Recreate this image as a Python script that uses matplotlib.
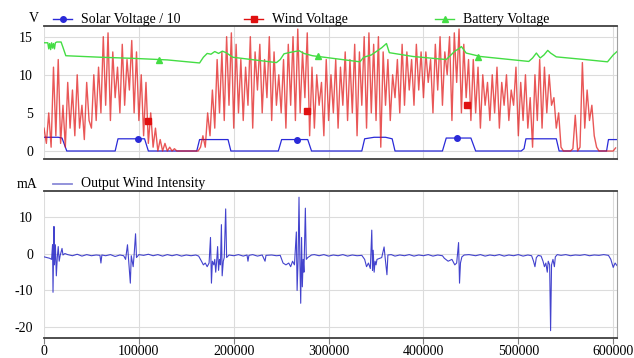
import numpy as np
import matplotlib
matplotlib.use("Agg")
import matplotlib.pyplot as plt
from matplotlib.lines import Line2D

plt.rcParams['font.family'] = ['Liberation Serif', 'DejaVu Serif']
plt.rcParams['font.size'] = 10
plt.rcParams['axes.unicode_minus'] = False

# ---------------------------------------------------------
# DATA
# ---------------------------------------------------------

# wind voltage, one sample every 2500 s
wind_step = 2500
wind_v = [
    3, 1, 5, 0.5, 11, 2, 12, 1, 6, 0.5, 9, 3, 8, 2, 10, 3, 6, 1.5, 9, 4,
    3, 10, 4, 11, 5, 15, 6, 15.5, 4, 13, 7, 11, 5, 14, 6, 12, 8, 14.5, 5, 13,
    4, 10, 2, 9, 1, 5, 0.5, 3, 0, 1.5, 0, 1, 0, 0.5, 0, 0.3, 0, 0, 0, 0,
    0, 0, 0, 0, 0, 0, 0.5, 2, 0.5, 5, 2, 8, 3, 12, 5, 13, 4, 15, 6, 15.5,
    3, 14, 5, 12, 4, 11, 6, 15, 3, 13, 8, 14, 5, 12, 7, 15, 4, 13, 6, 10,
    5, 12, 3, 14, 6, 15, 4, 16, 5, 13, 7, 15.5, 2, 11, 3, 10, 6, 9, 2, 12,
    4, 10, 5, 12, 3, 11, 6, 13, 4, 12, 5, 14, 2, 13, 6, 15, 3, 15.5, 5, 14,
    4, 15, 0.5, 13, 6, 12, 4, 10, 7, 12, 5, 14, 6, 13, 8, 12, 6, 14, 8, 13,
    7, 13, 9, 12, 5, 14, 8, 15, 6, 13, 10, 15, 4, 15.5, 9, 16, 5, 14, 7, 12,
    4, 12, 5, 11, 3, 10, 6, 9, 4, 10, 5, 11, 3, 9, 6, 10, 4, 8, 6, 11,
    2, 9, 4, 10, 3, 7, 0.5, 10, 4, 12, 3, 11, 5, 10, 6, 7, 3, 5, 0.5, 0,
    0, 0, 0, 0.3, 4.7, 0, 0.5, 11.6, 3, 8, 4, 6, 2, 0.5, 0, 0, 0, 0, 0, 0,
    0, 0.4,
]

solar_t = [0, 15000, 19000, 24000, 75000, 78000, 106000, 110000, 161000, 164000,
           194000, 197000, 247000, 250500, 278000, 282000, 335000, 338000, 348000, 360000,
           367000, 370000, 420000, 424000, 450000, 455000, 503000, 506000, 508000, 540000,
           543000, 593000, 595000, 604000]
solar_v = [1.8, 1.8, 1.7, 0, 0, 1.6, 1.6, 0, 0, 1.5,
           1.5, 0, 0, 1.5, 1.5, 0, 0, 1.6, 1.8, 1.8,
           1.6, 0, 0, 1.7, 1.7, 0, 0, 0.3, 1.6, 1.6,
           0, 0, 1.5, 1.5]

batt_t = [0, 4000, 5000, 6000, 7000, 8000, 9000, 10000, 11000, 12000,
          13500, 18000, 20000, 23000, 60000, 95000, 130000, 164000, 168000, 172000,
          176000, 180000, 184000, 188000, 192000, 199000, 245000, 249000, 253000, 258000,
          262000, 269000, 274000, 283000, 333000, 337000, 345000, 352000, 356000, 361000,
          364000, 389000, 424000, 429000, 433000, 437000, 440000, 445000, 460000, 511000,
          515000, 519000, 523000, 527000, 531000, 534000, 540000, 570000, 594000, 600000,
          604000]
batt_v = [14.2, 14.2, 13.4, 14.1, 13.3, 14.2, 13.5, 14.1, 13.4, 14.2,
          14.3, 14.3, 13.6, 12.5, 12.3, 12.15, 11.95, 11.55, 12.3, 12.8,
          12.7, 13.05, 12.8, 13.1, 12.9, 12.3, 11.6, 12.0, 12.75, 12.9,
          13.0, 13.15, 12.8, 12.5, 11.7, 12.3, 12.6, 13.2, 13.55, 14.1,
          12.9, 12.4, 12.0, 12.6, 13.1, 13.4, 13.7, 12.85, 12.4, 11.75,
          12.2, 12.85, 12.2, 12.6, 13.2, 12.85, 12.35, 12.0, 11.7, 12.6,
          13.05]

# marker positions seen on the picture
solar_mark_t = [99000, 267000, 435000]
solar_mark_v = [1.6, 1.5, 1.7]
wind_mark_t = [110000, 277000, 446000]
wind_mark_v = [4.0, 5.3, 6.1]
batt_mark_t = [121000, 289000, 458000]
batt_mark_v = [12.0, 12.45, 12.3]

# output wind intensity (t, mA)
intensity_pts = [
    (0, -0.8), (3000, -1.0), (6000, -1.2), (8000, -1.5), (9000, 2.5), (9500, -10.5),
    (10500, 7.5), (11000, -3), (12000, 2.5), (13000, -6), (14000, -1), (15000, 2),
    (16000, -2), (17000, -0.5), (19000, 1.5), (20000, -0.3), (22000, 0.1),
    (25000, -0.2), (30000, -0.5), (35000, -0.1), (40000, -0.6), (45000, -0.2),
    (50000, -0.5), (55000, -0.3), (59000, -0.4), (60000, -2.5), (61000, -0.3),
    (65000, -0.5), (70000, -0.2), (75000, -0.7), (80000, -0.3), (84000, -0.5),
    (86000, -1.5), (88000, 2.5), (89000, -1), (91000, -8), (92000, -0.5),
    (94000, -3.5), (95000, -0.2), (96500, 5.5), (97500, -1), (100000, -0.2),
    (105000, -0.4), (110000, -0.1), (115000, -0.5), (120000, -0.2), (125000, -0.6),
    (130000, -0.2), (135000, -0.5), (140000, -0.2), (145000, -0.6), (150000, -0.3),
    (155000, -0.5), (160000, -0.3), (163000, -0.6), (166000, -2), (168000, -3),
    (170000, -2.5), (172000, -3.5), (174000, -2.5), (175500, 4.5), (176500, -8),
    (177500, -2), (179000, -3), (180000, -1.5), (181000, -5), (182000, -2),
    (183000, 2), (184000, -4.5), (185000, -1.5), (186000, -3), (187000, 8),
    (187800, -6), (189000, -2), (190000, -1), (191500, 12.3), (192500, -1),
    (195000, -0.3), (200000, -0.5), (205000, -0.2), (210000, -0.6), (214000, -0.3),
    (215000, -2), (216000, -0.4), (220000, -0.2), (225000, -0.6), (230000, -0.3),
    (233000, -2), (234000, -0.4), (240000, -0.3), (245000, -0.5), (249000, -0.4),
    (252000, -2.5), (255000, -3), (258000, -2.5), (260000, -3.5), (262000, -2),
    (264000, -3), (266000, 6), (266800, -10), (267800, -2), (268800, 15.5),
    (269800, -3), (270600, -13.5), (271500, 4.5), (272300, -9), (273200, -1.5),
    (274000, -5), (275500, 12.5), (276500, -1.5), (278000, -1), (282000, -0.3),
    (285000, -0.2), (290000, -0.5), (295000, -0.2), (300000, -0.6), (305000, -0.3),
    (310000, -0.5), (315000, -0.2), (320000, -0.6), (325000, -0.3), (330000, -0.5),
    (335000, -0.4), (338000, -1.5), (340000, -3.5), (342000, -2.5), (344000, -4),
    (345500, 6.5), (346300, -4.5), (347000, 1), (348000, -5), (349000, -2),
    (350000, -3), (351000, -1.5), (356000, -1), (358500, 1.9), (359500, -0.8),
    (361500, -5.7), (362500, -0.3), (366000, -0.2), (370000, -0.6), (375000, -0.3),
    (380000, -0.5), (385000, -0.2), (390000, -0.6), (395000, -0.3), (400000, -0.5),
    (405000, -0.2), (410000, -0.6), (415000, -0.3), (420000, -0.5), (422000, -1.2),
    (426000, -2), (430000, -1.5), (433000, -3), (435000, -2.5), (437000, 3.1),
    (438000, -8), (439000, -2.5), (440500, -0.8), (443000, -0.3), (448000, -0.2),
    (455000, -0.5), (460000, -0.2), (465000, -0.6), (470000, -0.3), (475000, -0.5),
    (480000, -0.2), (485000, -0.6), (490000, -0.3), (495000, -0.5), (500000, -0.2),
    (505000, -0.6), (510000, -0.3), (514000, -0.5), (516000, -2), (517500, -3.5),
    (519000, -1), (521000, -0.4), (524000, -0.6), (526000, -2), (527500, -3.5),
    (529000, -2.5), (530500, -5), (531500, -2), (533000, -3), (534000, -21),
    (535000, -3), (536500, -1.5), (538000, -3.5), (539000, -0.8), (541000, -0.2),
    (545000, -0.4), (550000, -0.2), (555000, -0.5), (560000, -0.3), (565000, -0.4),
    (570000, -0.2), (575000, -0.5), (580000, -0.3), (585000, -0.4), (590000, -0.2),
    (595000, -0.4), (597500, -1.5), (600000, -3.7), (602000, -2.5), (604000, -3.2),
]

x_ticks = [0, 100000, 200000, 300000, 400000, 500000, 600000]
x_ticklabels = ["0", "100000", "200000", "300000", "400000", "500000", "600000"]

SOLAR_COLOR = "#2a2ad8"
WIND_COLOR = "#e01010"
BATT_COLOR = "#44dd44"
INT_COLOR = "#2e2ec8"
GRID_COLOR = "#dcdcdc"
SPINE_COLOR = "#404040"

wind_t = np.arange(len(wind_v)) * wind_step
int_t, int_v = zip(*intensity_pts)

fig = plt.figure(figsize=(6.34, 3.58), dpi=100)
ax_top = fig.add_axes([44 / 634, 1 - 159 / 358, 573 / 634, 133 / 358])
ax_bot = fig.add_axes([44 / 634, 1 - 338 / 358, 573 / 634, 147 / 358])


def style_axes(ax):
    ax.set_xlim(0, 604000)
    ax.set_xticks(x_ticks)
    ax.grid(True, color=GRID_COLOR, linewidth=0.8)
    ax.set_axisbelow(True)
    ax.spines["left"].set_visible(False)
    ax.spines["right"].set_color("#a0a0a0")
    ax.spines["right"].set_linewidth(0.8)
    for side in ("top", "bottom"):
        ax.spines[side].set_color(SPINE_COLOR)
        ax.spines[side].set_linewidth(1.3)
    ax.tick_params(axis="y", length=0, pad=8, labelsize=10)


# ---------------------------------------------------------
# TOP PANEL: voltages
# ---------------------------------------------------------
style_axes(ax_top)
ax_top.plot(solar_t, solar_v, color=SOLAR_COLOR, linewidth=0.9)
ax_top.plot(wind_t, wind_v, color=WIND_COLOR, linewidth=1.0, alpha=0.7)
ax_top.plot(batt_t, batt_v, color=BATT_COLOR, linewidth=1.0)
ax_top.plot(solar_mark_t, solar_mark_v, "o", color=SOLAR_COLOR, markersize=4, linestyle="none")
ax_top.plot(wind_mark_t, wind_mark_v, "s", color=WIND_COLOR, markersize=4, linestyle="none")
ax_top.plot(batt_mark_t, batt_mark_v, "^", color=BATT_COLOR, markersize=5, linestyle="none")
ax_top.set_ylim(-1.05, 16.4)
ax_top.set_yticks([0, 5, 10, 15])
ax_top.tick_params(axis="x", length=0, labelbottom=False)

# ---------------------------------------------------------
# BOTTOM PANEL: output wind intensity
# ---------------------------------------------------------
style_axes(ax_bot)
ax_bot.plot(int_t, int_v, color=INT_COLOR, linewidth=0.8, alpha=0.9)
ax_bot.set_ylim(-23, 17.2)
ax_bot.set_yticks([-20, -10, 0, 10])
ax_bot.set_xticklabels(x_ticklabels)
ax_bot.tick_params(axis="x", length=4, color="#808080", pad=1, labelsize=10)

# ---------------------------------------------------------
# HAND PLACED LEGENDS (pixel coordinates of the reference)
# ---------------------------------------------------------
W, H = 634, 358


def legend_entry(x0, y, color, marker, label, msize=4, lw=1.0):
    fy = 1 - y / H
    fig.add_artist(Line2D([x0 / W, (x0 + 19) / W], [fy, fy], color=color, linewidth=lw))
    if marker:
        fig.add_artist(Line2D([(x0 + 9.5) / W], [fy], color=color, marker=marker,
                              markersize=msize, linestyle="none"))
    fig.text((x0 + 28) / W, fy, label, ha="left", va="center", fontsize=10)


fig.text(34 / W, 1 - 19 / H, "V", ha="center", va="center", fontsize=10)
legend_entry(53, 19, SOLAR_COLOR, "o", "Solar Voltage / 10")
legend_entry(244, 19, WIND_COLOR, "s", "Wind Voltage")
legend_entry(435, 19, BATT_COLOR, "^", "Battery Voltage", msize=5)

fig.text(27 / W, 1 - 185 / H, "mA", ha="center", va="center", fontsize=10)
legend_entry(53, 184, "#8a8ad8", None, "Output Wind Intensity", lw=1.3)

fig.savefig("out.png", dpi=100)
